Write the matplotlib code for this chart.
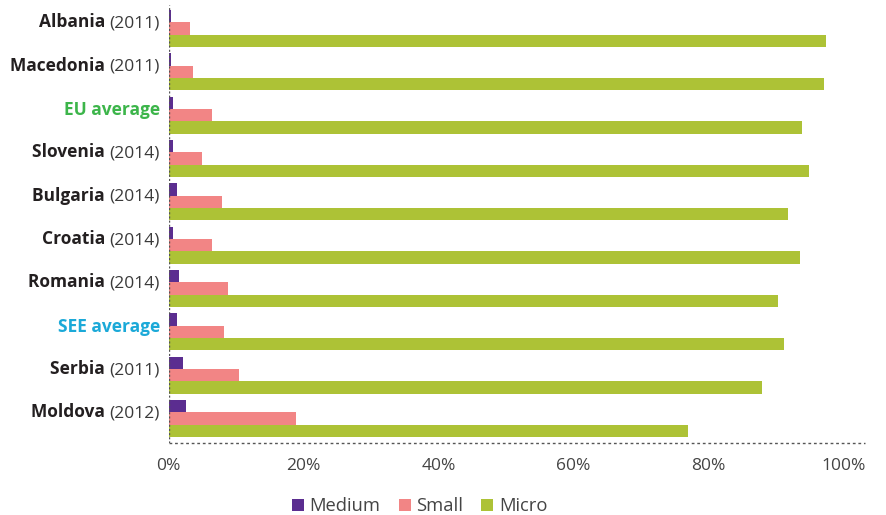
import matplotlib.pyplot as plt
import numpy as np

plt.rcParams['font.family'] = ['Open Sans', 'DejaVu Sans']

# share of enterprises by size class, per country (%)
countries = ['Albania', 'Macedonia', 'EU average', 'Slovenia', 'Bulgaria',
             'Croatia', 'Romania', 'SEE average', 'Serbia', 'Moldova']
years = ['(2011)', '(2011)', '', '(2014)', '(2014)',
         '(2014)', '(2014)', '', '(2011)', '(2012)']
medium = [0.3, 0.3, 0.7, 0.7, 1.3, 0.7, 1.6, 1.3, 2.1, 2.6]
small = [3.2, 3.6, 6.4, 5.0, 7.9, 6.4, 8.8, 8.2, 10.4, 18.9]
micro = [97.4, 97.1, 93.9, 95.0, 91.8, 93.6, 90.4, 91.2, 88.0, 77.0]

c_medium = '#5b2d90'
c_small = '#f28585'
c_micro = '#adc236'
label_colors = {'EU average': '#3cb54a', 'SEE average': '#1ba9d8'}

fig = plt.figure(figsize=(8.87, 5.15), dpi=100)
ax = fig.add_axes([0.19, 0.14, 0.785, 0.85])

y = np.arange(len(countries))
h = 0.285
ax.barh(y - h, medium, height=h, color=c_medium, label='Medium')
ax.barh(y, small, height=h, color=c_small, label='Small')
ax.barh(y + h, micro, height=h, color=c_micro, label='Micro')

ax.set_xlim(0, 103.2)
ax.set_ylim(9.56, -0.54)

for s in ax.spines.values():
    s.set_visible(False)
ax.axvline(0, color='#555555', lw=1, ls=(0, (1.5, 1.5)))
ax.axhline(9.56, color='#555555', lw=1, ls=(0, (2, 2)), clip_on=False)

ax.set_xticks([0, 20, 40, 60, 80, 100])
ax.set_xticklabels(['0%', '20%', '40%', '60%', '80%', '100%'])
ax.tick_params(axis='x', length=0, pad=11, labelsize=12.5, labelcolor='#444444')
ax.set_yticks([])

# row labels: bold name followed by the year in regular weight
for i, (name, yr) in enumerate(zip(countries, years)):
    ypos = i - 0.12
    if yr:
        t = ax.text(-1.3, ypos, yr, ha='right', va='center', fontsize=12.5,
                    color='#3a3a3a', transform=ax.transData)
        ax.annotate(name + ' ', xy=(0, 0), xycoords=t, ha='right', va='bottom',
                    fontsize=12.5, fontweight='bold', color='#231f20')
    else:
        ax.text(-1.3, ypos, name, ha='right', va='center', fontsize=12.5,
                fontweight='bold', color=label_colors[name])

fig.legend(loc='center', bbox_to_anchor=(0.473, 0.017), ncol=3, frameon=False,
           fontsize=13.2, handlelength=0.65, handleheight=0.65, handletextpad=0.3,
           columnspacing=1.0, labelcolor='#444444')

fig.savefig('out.png', dpi=100)
